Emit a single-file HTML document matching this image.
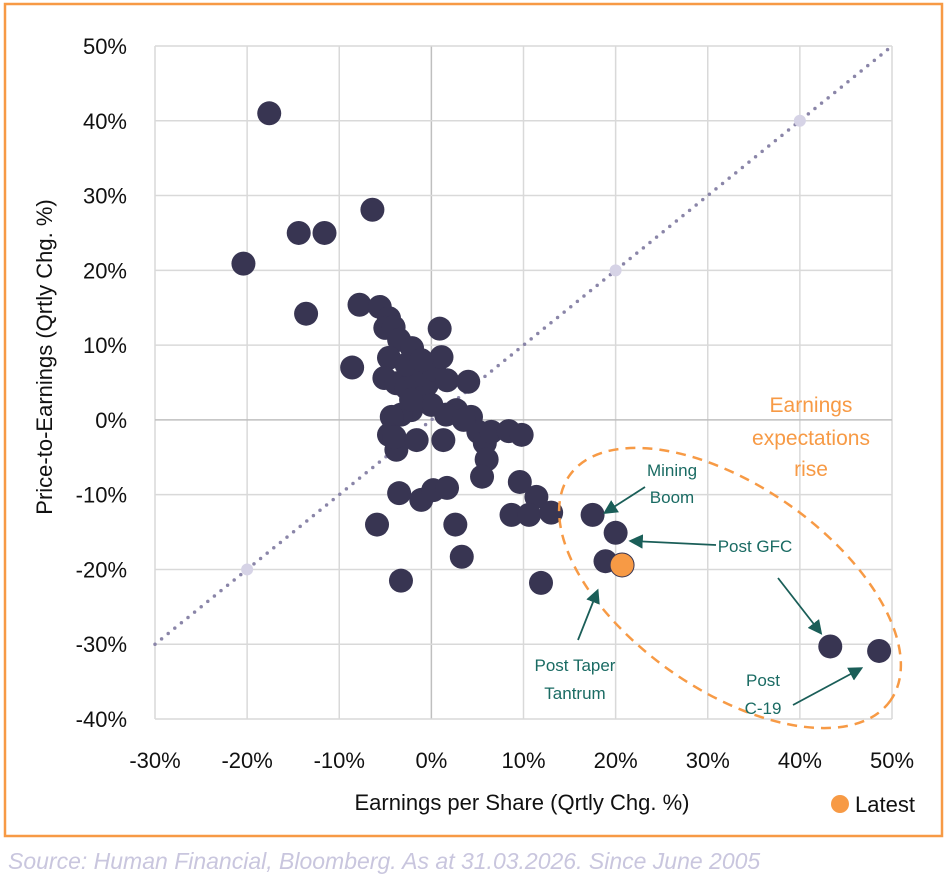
<!DOCTYPE html>
<html><head><meta charset="utf-8"><style>
body{margin:0;background:#fff;width:952px;height:878px;overflow:hidden;font-family:"Liberation Sans",sans-serif}
svg text{font-family:"Liberation Sans",sans-serif}
</style></head><body>
<svg id="chart" width="952" height="878">
<rect x="5" y="4" width="937" height="832" fill="#fff" stroke="#f79a45" stroke-width="2.5"/>
<g id="grid"></g><g id="diag"></g><g id="pts"></g><g id="ann"></g><g id="axes"></g>
<text x="8" y="869" font-size="23" font-style="italic" fill="#c9c6de">Source: Human Financial, Bloomberg. As at 31.03.2026. Since June 2005</text>
</svg>
<script>
const xTicks=[-30,-20,-10,0,10,20,30,40,50];
const yTicks=[-40,-30,-20,-10,0,10,20,30,40,50];
const epsVals=[-17.6,-20.4,-14.4,-11.6,-6.4,-13.6,-7.8,-5.6,-4.6,-5.0,-4.1,-3.5,-2.1,0.9,-8.6,-4.6,-5.1,-3.8,-2.7,-1.6,-0.5,0.3,1.1,1.7,-1.1,0,-2.2,-3.3,-4.3,2.7,4.0,4.3,5.1,5.8,6.0,5.5,6.5,8.4,9.8,-4.6,-3.8,-4.0,-1.6,1.3,-3.5,-1.1,0.2,1.7,2.6,3.3,-5.9,-3.3,9.6,11.4,8.7,10.6,13.0,11.9,17.5,20.0,18.9,43.3,48.6,-2.7,-1.1,-2.2,1.6,3.5];
const peVals=[41.0,20.9,25.0,25.0,28.1,14.2,15.4,15.1,13.6,12.3,12.4,10.7,9.6,12.2,7.0,8.3,5.6,4.9,4.3,5.3,4.7,6.7,8.4,5.3,2.9,2.0,1.3,0.7,0.4,1.3,5.1,0.4,-1.6,-3.1,-5.3,-7.6,-1.6,-1.5,-2.0,-2.0,-4.0,-2.3,-2.7,-2.7,-9.8,-10.7,-9.4,-9.1,-14.0,-18.3,-14.0,-21.5,-8.3,-10.3,-12.7,-12.7,-12.4,-21.8,-12.7,-15.1,-18.9,-30.3,-30.9,7.4,8.0,2.7,0.7,0];
const latestEps=[20.7];
const latestPe=[-19.4];
const diagMarks=[-20,20,40];
const X0=155,X1=892,Y0=719,Y1=46;
const sx=v=>X0+(v+30)/80*(X1-X0);
const sy=v=>Y0-(v+40)/90*(Y0-Y1);
const NS="http://www.w3.org/2000/svg";
function mk(p,t,a){const e=document.createElementNS(NS,t);for(const k in a)e.setAttribute(k,a[k]);p.appendChild(e);return e;}
const G=document.getElementById('grid'),A=document.getElementById('axes');
xTicks.forEach(t=>{const l=mk(G,'line',{x1:sx(t),x2:sx(t),y1:Y1,y2:Y0,stroke:t==0?'#bfbfbf':'#d9d9d9','stroke-width':1.5});


const tx=mk(A,'text',{x:sx(t),y:768,'font-size':22,'text-anchor':'middle',fill:'#111'});tx.textContent=t+'%';

});
yTicks.forEach(t=>{const l=mk(G,'line',{x1:X0,x2:X1,y1:sy(t),y2:sy(t),stroke:t==0?'#bfbfbf':'#d9d9d9','stroke-width':1.5});


const tx=mk(A,'text',{x:127,y:sy(t)+8,'font-size':22,'text-anchor':'end',fill:'#111'});tx.textContent=t+'%';

});
const xt=mk(A,'text',{x:522,y:810,'font-size':22,'text-anchor':'middle',fill:'#111'});xt.textContent='Earnings per Share (Qrtly Chg. %)';


const yt=mk(A,'text',{x:52,y:357,'font-size':22,'text-anchor':'middle',fill:'#111',transform:'rotate(-90 52 357)'});yt.textContent='Price-to-Earnings (Qrtly Chg. %)';


const D=document.getElementById('diag');
const dl=mk(D,'line',{x1:sx(-30),y1:sy(-30),x2:sx(50),y2:sy(50),stroke:'#8a85a8','stroke-width':3.5,'stroke-dasharray':'0 8.5','stroke-linecap':'round'});


diagMarks.forEach(v=>{const c=mk(D,'circle',{cx:sx(v),cy:sy(v),r:6,fill:'#d6d3e6'});

});
const P=document.getElementById('pts');
epsVals.forEach((v,i)=>{const c=mk(P,'circle',{cx:sx(v),cy:sy(peVals[i]),r:12,fill:'#383552'});

});
latestEps.forEach((v,i)=>{const c=mk(P,'circle',{cx:sx(v),cy:sy(latestPe[i]),r:12,fill:'#f79a45',stroke:'#383552','stroke-width':1});

});
</script>
<svg style="position:absolute;left:0;top:0" width="952" height="878">
<defs><marker id="ah" markerWidth="8" markerHeight="8" refX="6" refY="4" orient="auto"><path d="M0,0 L8,4 L0,8 z" fill="#1a5e58"/></marker></defs>
<ellipse cx="730" cy="588" rx="196" ry="102" transform="rotate(35 730 588)" fill="none" stroke="#f79a45" stroke-width="2.5" stroke-dasharray="10 7"/>
<g font-size="21" fill="#f79a45" text-anchor="middle">
<text x="811" y="412">Earnings</text><text x="811" y="445">expectations</text><text x="811" y="476">rise</text></g>
<g font-size="17" fill="#1a6b63">
<text x="672" y="476" text-anchor="middle">Mining</text><text x="672" y="503" text-anchor="middle">Boom</text>
<text x="755" y="552" text-anchor="middle">Post GFC</text>
<text x="575" y="671" text-anchor="middle">Post Taper</text><text x="575" y="699" text-anchor="middle">Tantrum</text>
<text x="763" y="686" text-anchor="middle">Post</text><text x="763" y="714" text-anchor="middle">C-19</text></g>
<g stroke="#1a5e58" stroke-width="1.8" marker-end="url(#ah)">
<line x1="645" y1="487" x2="606" y2="512"/><line x1="716" y1="545" x2="632" y2="541"/>
<line x1="778" y1="578" x2="820" y2="632"/><line x1="578" y1="640" x2="597" y2="592"/>
<line x1="793" y1="705" x2="860" y2="669"/></g>
<circle cx="840" cy="804" r="9" fill="#f79a45"/>
<text x="855" y="812" font-size="22" fill="#111">Latest</text>
</svg>
</body></html>
